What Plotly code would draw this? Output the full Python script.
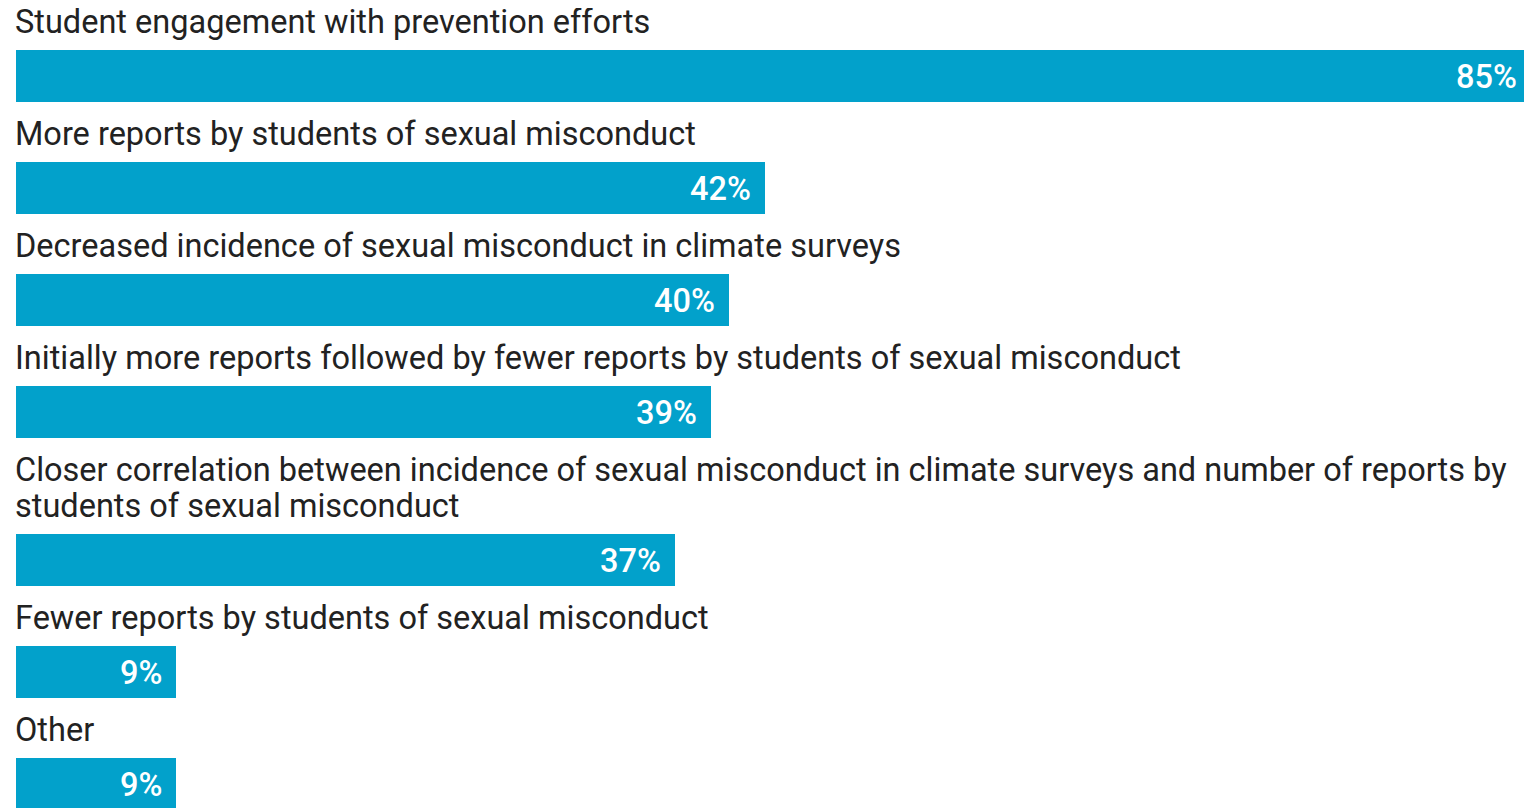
import plotly.graph_objects as go

# data
labels = [
    "Student engagement with prevention efforts",
    "More reports by students of sexual misconduct",
    "Decreased incidence of sexual misconduct in climate surveys",
    "Initially more reports followed by fewer reports by students of sexual misconduct",
    "Closer correlation between incidence of sexual misconduct in climate surveys and number of reports by<br>students of sexual misconduct",
    "Fewer reports by students of sexual misconduct",
    "Other",
]
values = [85, 42, 40, 39, 37, 9, 9]

# variables
page = [1532, 808]  # browser window
body_margin = 8  # default page margin round the plot div
size_plot = [page[0] - body_margin, page[1] - body_margin]
color_bar = "#02a1cb"
color_text = "#222222"
font_family = "Roboto"
size_label = 32.5
size_value = 32.5
bar_h = 52
row_h = 112  # label + bar for a one-line label
line_h = 36  # spacing between label lines
first_top = 50  # top of first bar (page pixels)
left_px = 16
px_per_unit = (1531 - left_px) / max(values)

# bar positions (page pixel units on reversed y axis)
tops = []
top = first_top
for lab in labels:
    top += lab.count("<br>") * line_h
    tops.append(top)
    top += row_h
centers = [t + bar_h / 2 for t in tops]

fig = go.Figure()
fig.add_trace(go.Bar(
    x=values,
    y=centers,
    orientation="h",
    width=bar_h,
    marker=dict(color=color_bar, line=dict(width=0)),
    hoverinfo="skip",
))

# value labels inside bar end
for v, c in zip(values, centers):
    fig.add_annotation(
        x=v, y=c, text=f"{v}%", showarrow=False,
        xanchor="right", yanchor="middle", xshift=-12, yshift=-1,
        font=dict(family=font_family, size=size_value, color="white", weight=500),
    )

# category labels above bars, one annotation per line
for lab, t in zip(labels, tops):
    lines = lab.split("<br>")
    n = len(lines)
    for j, line in enumerate(lines):
        fig.add_annotation(
            x=0, y=t - (n - 1 - j) * line_h, text=line, showarrow=False, align="left",
            xanchor="left", yanchor="bottom", xshift=-3, yshift=7,
            font=dict(family=font_family, size=size_label, color=color_text),
        )

fig.update_xaxes(range=[(body_margin - left_px) / px_per_unit, (page[0] - left_px) / px_per_unit],
                 visible=False, fixedrange=True)
fig.update_yaxes(range=[page[1], body_margin], visible=False, fixedrange=True)
fig.update_layout(
    width=size_plot[0],
    height=size_plot[1],
    margin=dict(l=0, r=0, t=0, b=0),
    plot_bgcolor="white",
    paper_bgcolor="white",
    showlegend=False,
    bargap=0,
)

fig.write_html("out.html")
